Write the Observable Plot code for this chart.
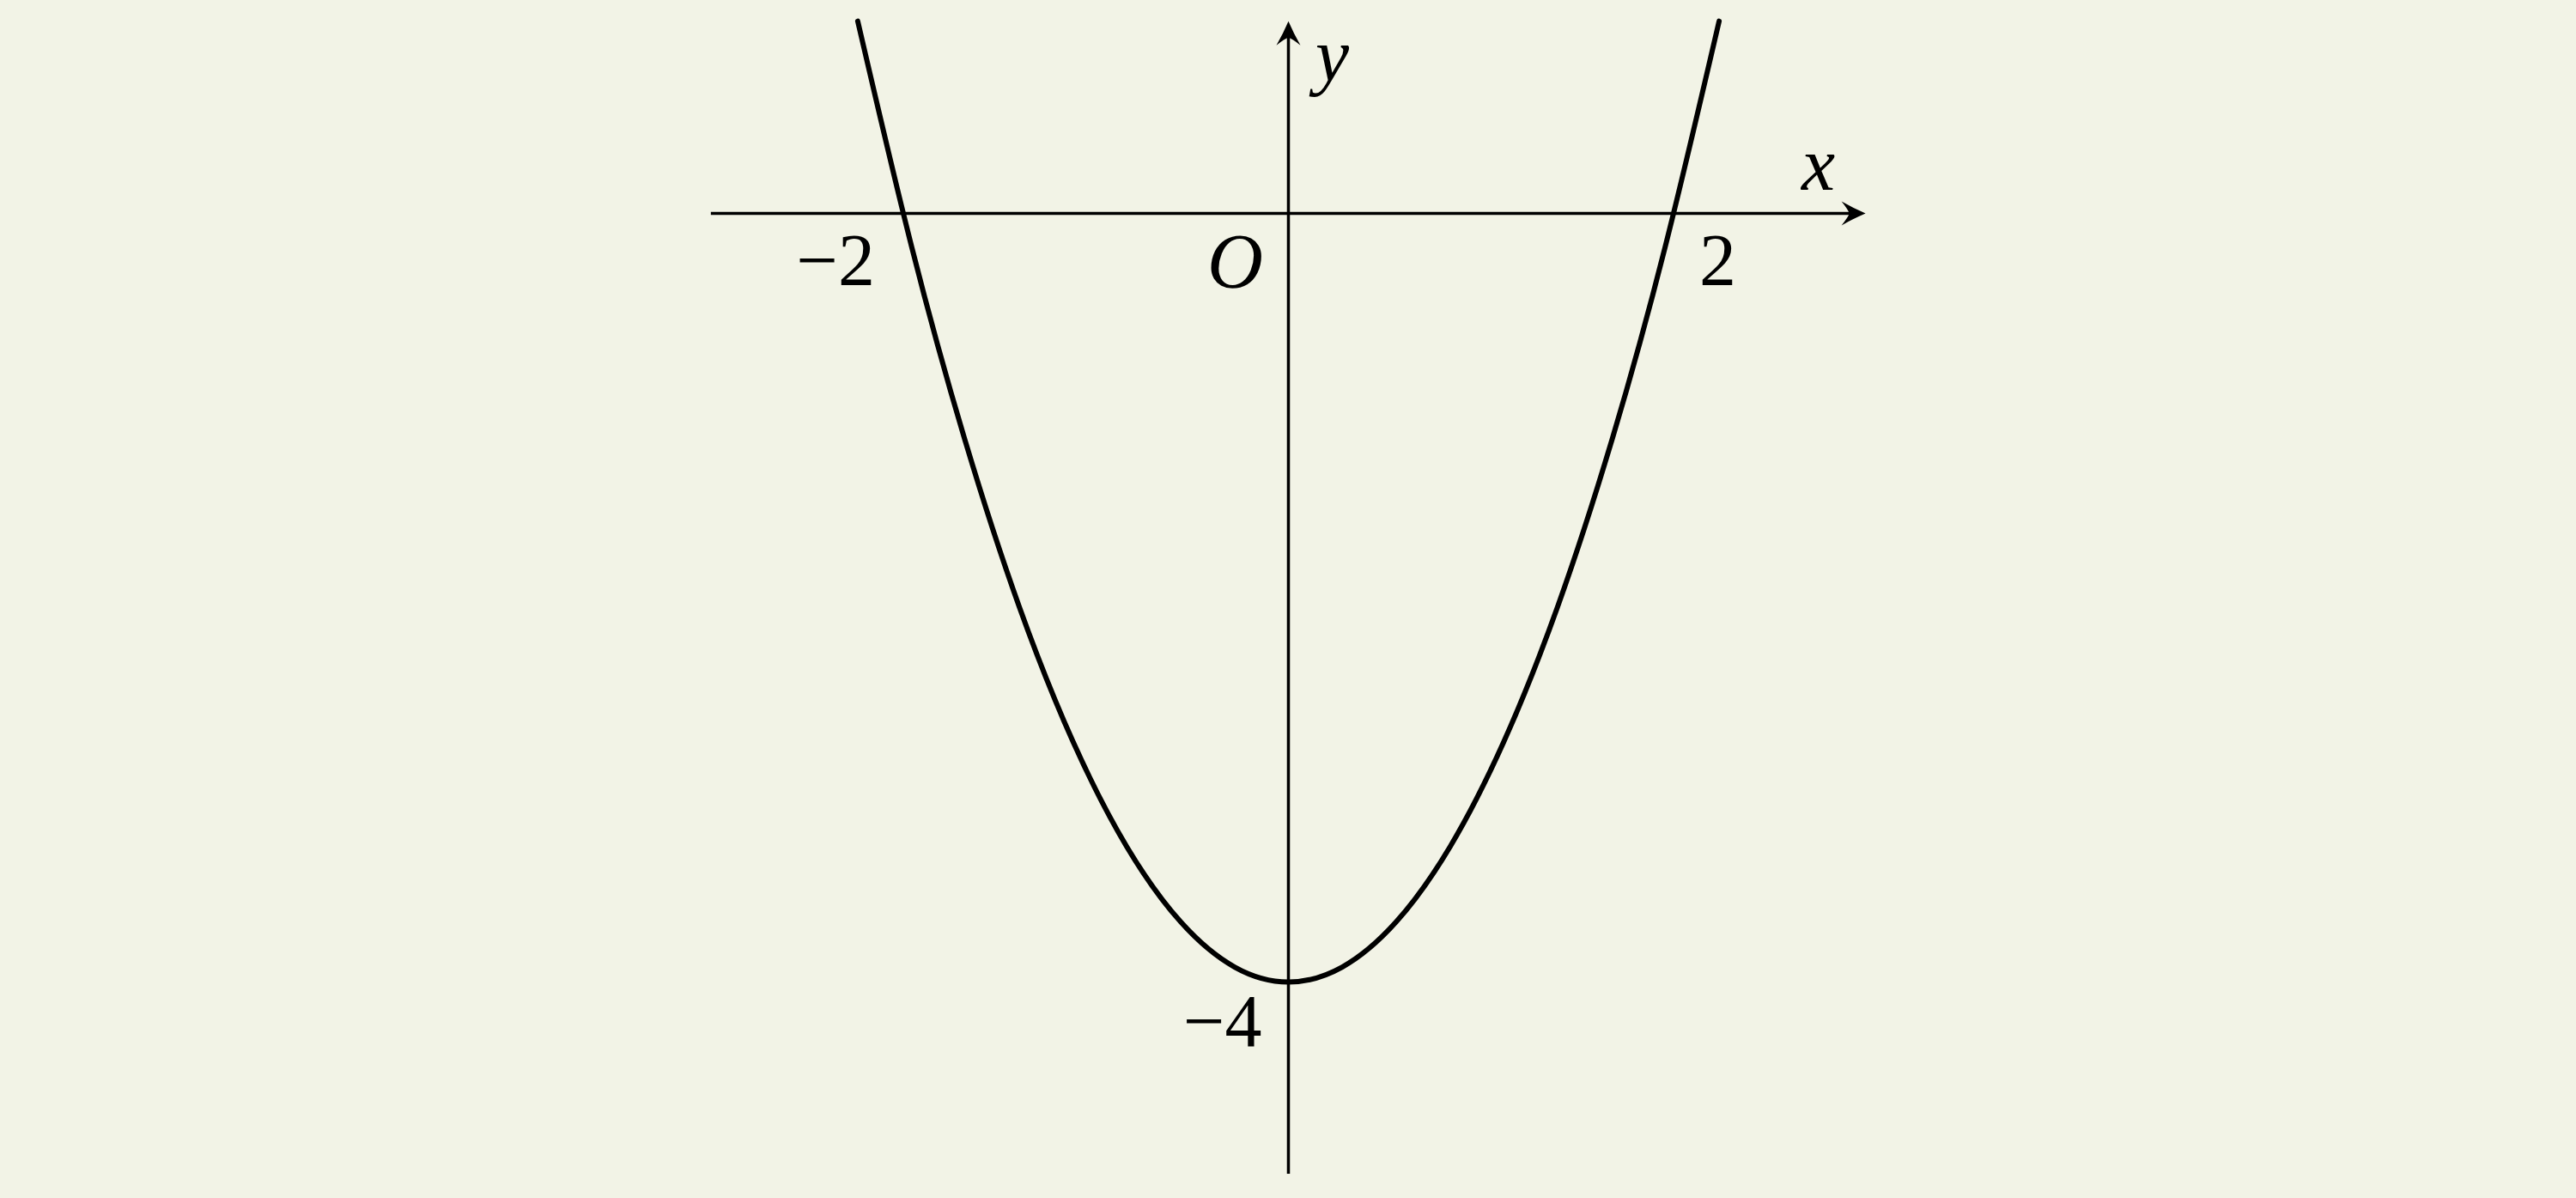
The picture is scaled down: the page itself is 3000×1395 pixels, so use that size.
<!DOCTYPE html>
<html>
<head>
<meta charset="utf-8">
<script src="https://cdn.jsdelivr.net/npm/d3@7"></script>
<script src="https://cdn.jsdelivr.net/npm/@observablehq/plot@0.6"></script>
<style>
  html, body { margin: 0; padding: 0; background: #f2f3e6; }
  #chart svg { display: block; }
</style>
</head>
<body>
<div id="chart"></div>
<script>
// Parabola samples (vertex at y = -4, crosses x-axis near ±1.79, ends at y = 1 for x = ±2)
const curveX = [-2, -1.75, -1.5, -1.25, -1, -0.75, -0.5, -0.25, 0, 0.25, 0.5, 0.75, 1, 1.25, 1.5, 1.75, 2];
const curveY = [1, -0.172, -1.1875, -2.047, -2.75, -3.297, -3.6875, -3.922, -4, -3.922, -3.6875, -3.297, -2.75, -2.047, -1.1875, -0.172, 1];

// Axes extents
const xAxisRange = [-2.68, 2.68];
const yAxisRange = [-5.0, 1.0];

// Tick labels
const xTickValues = [-2, 2];
const xTickLabels = ["\u22122", "2"];
const yTickValues = [-4];
const yTickLabels = ["\u22124"];

const curve = curveX.map((x, i) => ({x, y: curveY[i]}));

const arrowRight = {
  draw(ctx) {
    ctx.moveTo(0, 0);
    ctx.quadraticCurveTo(-14, -6, -28, -14);
    ctx.quadraticCurveTo(-20, -4, -19, 0);
    ctx.quadraticCurveTo(-20, 4, -28, 14);
    ctx.quadraticCurveTo(-14, 6, 0, 0);
    ctx.closePath();
  }
};
const arrowUp = {
  draw(ctx) {
    ctx.moveTo(0, 0);
    ctx.quadraticCurveTo(6, 14, 14, 28);
    ctx.quadraticCurveTo(4, 20, 0, 19);
    ctx.quadraticCurveTo(-4, 20, -14, 28);
    ctx.quadraticCurveTo(-6, 14, 0, 0);
    ctx.closePath();
  }
};

const serif = "'Liberation Serif', 'DejaVu Serif', serif";
const fs = 86;

const chart = Plot.plot({
  width: 3000,
  height: 1395,
  marginTop: 0, marginRight: 0, marginBottom: 0, marginLeft: 0,
  style: {background: "#f2f3e6"},
  x: {domain: [-5.981, 5.981], axis: null},
  y: {domain: [-5.126, 1.108], axis: null},
  marks: [
    Plot.ruleY([{y: 0, x1: xAxisRange[0], x2: xAxisRange[1] - 0.04}], {y: "y", x1: "x1", x2: "x2", stroke: "black", strokeWidth: 3.5}),
    Plot.ruleX([{x: 0, y1: yAxisRange[0], y2: yAxisRange[1] - 0.04}], {x: "x", y1: "y1", y2: "y2", stroke: "black", strokeWidth: 3.5}),
    Plot.dot([{x: xAxisRange[1], y: 0}], {x: "x", y: "y", symbol: arrowRight, fill: "black", stroke: "none", r: 10}),
    Plot.dot([{x: 0, y: yAxisRange[1]}], {x: "x", y: "y", symbol: arrowUp, fill: "black", stroke: "none", r: 10}),
    Plot.line(curve, {x: "x", y: "y", curve: "natural", stroke: "black", strokeWidth: 6}),
    // x tick labels
    Plot.text(xTickValues.map((v, i) => ({x: v, y: 0, t: xTickLabels[i]})), {
      x: "x", y: "y", text: "t", fontFamily: serif, fontSize: fs, fill: "black",
      textAnchor: "end", lineAnchor: "bottom", dx: 20, dy: 84
    }),
    // y tick labels
    Plot.text(yTickValues.map((v, i) => ({x: 0, y: v, t: yTickLabels[i]})), {
      x: "x", y: "y", text: "t", fontFamily: serif, fontSize: fs, fill: "black",
      textAnchor: "end", lineAnchor: "bottom", dx: -31, dy: 74
    }),
    // origin
    Plot.text([{x: 0, y: 0, t: "O"}], {
      x: "x", y: "y", text: "t", fontFamily: serif, fontStyle: "italic", fontSize: 90, fill: "black",
      textAnchor: "middle", lineAnchor: "bottom", dx: -62, dy: 87
    }),
    // axis names
    Plot.text([{x: xAxisRange[1], y: 0, t: "x"}], {
      x: "x", y: "y", text: "t", fontFamily: serif, fontStyle: "italic", fontSize: 88, fill: "black",
      textAnchor: "middle", lineAnchor: "bottom", dx: -55, dy: -27
    }),
    Plot.text([{x: 0, y: yAxisRange[1], t: "y"}], {
      x: "x", y: "y", text: "t", fontFamily: serif, fontStyle: "italic", fontSize: 88, fill: "black",
      textAnchor: "middle", lineAnchor: "bottom", dx: 51, dy: 69
    })
  ]
});
document.getElementById("chart").append(chart);
</script>
</body>
</html>
